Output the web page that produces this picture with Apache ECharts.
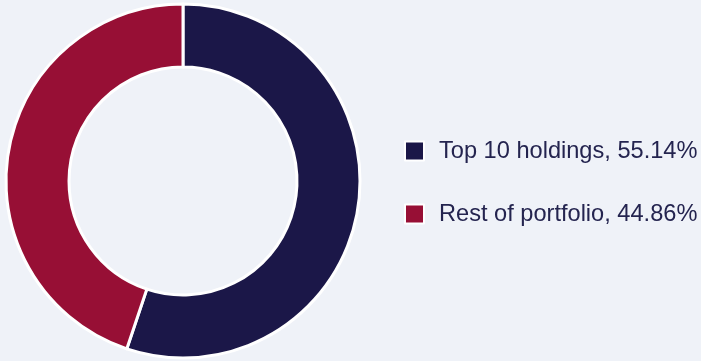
<!DOCTYPE html>
<html><head><meta charset="utf-8">
<script src="https://cdn.jsdelivr.net/npm/echarts@6/dist/echarts.min.js"></script>
<style>html,body{margin:0;padding:0;background:#eff2f8;}#c{width:701px;height:361px;}</style>
</head><body><div id="c"></div>
<script>
const categories = ['Top 10 holdings', 'Rest of portfolio'];
const values = [55.14, 44.86];
const colors = ['#1b1748', '#970f35'];
const chart = echarts.init(document.getElementById('c'), null, {renderer: 'canvas'});
chart.setOption({
  backgroundColor: '#eff2f8',
  animation: false,
  color: colors,
  legend: {
    orient: 'vertical',
    left: 399, top: 134,
    padding: 5,
    itemWidth: 19, itemHeight: 19, itemGap: 39,
    icon: 'rect',
    textStyle: {fontFamily: 'Liberation Sans', fontSize: 23.6, lineHeight: 23, color: '#24244f', padding: [0,0,0,10]},
    formatter: name => name + ', ' + values[categories.indexOf(name)].toFixed(2) + '%'
  },
  series: [{
    type: 'pie',
    center: [183, 181],
    radius: [114, 177],
    startAngle: 90,
    clockwise: true,
    label: {show: false},
    labelLine: {show: false},
    itemStyle: {borderColor: '#ffffff', borderWidth: 3},
    emphasis: {disabled: true},
    data: categories.map((c, i) => ({name: c, value: values[i]}))
  }]
});
</script></body></html>
